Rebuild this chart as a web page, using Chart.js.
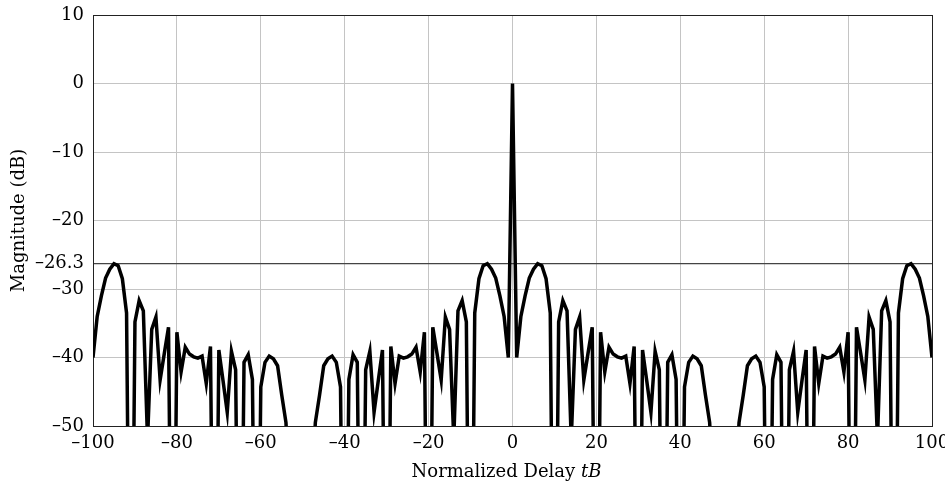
<!DOCTYPE html>
<html>
<head>
<meta charset="utf-8">
<script src="https://cdn.jsdelivr.net/npm/chart.js@4.4.0/dist/chart.umd.min.js"></script>
<style>
  html, body { margin: 0; padding: 0; background: #fff; }
  #wrap { width: 945px; height: 483px; }
</style>
</head>
<body>
<div id="wrap"><canvas id="chart" width="945" height="483"></canvas></div>
<script>
// normalized delay tB, one sample per unit
const delay = [];
for (let t = -100; t <= 100; t++) delay.push(t);

// magnitude (dB); values below -50 are off the axis
const magNeg = [ // tB = -100 .. -1
  -40, -34, -31, -28.4, -27.1, -26.3, -26.6, -28.5, -33.5, -100,
  -34.8, -31.7, -33.2, -52, -35.9, -34.1, -43.3, -39.4, -35.6, -100,
  -36.3, -42.1, -38.5, -39.5, -39.9, -40.1, -39.8, -43.8, -38.4, -100,
  -38.9, -43.4, -48, -39.1, -41.8, -100, -40.7, -39.6, -43.2, -100,
  -44.3, -40.7, -39.8, -40.2, -41.2, -45.5, -49.5, -62, -75, -85,
  -85, -75, -62, -49.5, -45.5, -41.2, -40.2, -39.8, -40.7, -44.3,
  -100, -43.2, -39.6, -40.7, -100, -41.8, -39.1, -48, -43.4, -38.9,
  -100, -38.4, -43.8, -39.8, -40.1, -39.9, -39.5, -38.5, -42.1, -36.3,
  -100, -35.6, -39.4, -43.3, -34.1, -35.9, -52, -33.2, -31.7, -34.8,
  -100, -33.5, -28.5, -26.6, -26.3, -27.1, -28.4, -31, -34, -40
];
const magZero = [0]; // tB = 0
const magPos = [ // tB = 1 .. 100
  -40, -34, -31, -28.4, -27.1, -26.3, -26.6, -28.5, -33.5, -100,
  -34.8, -31.7, -33.2, -52, -35.9, -34.1, -43.3, -39.4, -35.6, -100,
  -36.3, -42.1, -38.5, -39.5, -39.9, -40.1, -39.8, -43.8, -38.4, -100,
  -38.9, -43.4, -48, -39.1, -41.8, -100, -40.7, -39.6, -43.2, -100,
  -44.3, -40.7, -39.8, -40.2, -41.2, -45.5, -49.5, -62, -75, -85,
  -85, -75, -62, -49.5, -45.5, -41.2, -40.2, -39.8, -40.7, -44.3,
  -100, -43.2, -39.6, -40.7, -100, -41.8, -39.1, -48, -43.4, -38.9,
  -100, -38.4, -43.8, -39.8, -40.1, -39.9, -39.5, -38.5, -42.1, -36.3,
  -100, -35.6, -39.4, -43.3, -34.1, -35.9, -52, -33.2, -31.7, -34.8,
  -100, -33.5, -28.5, -26.6, -26.3, -27.1, -28.4, -31, -34, -40
];
const magnitude = magNeg.concat(magZero, magPos);

const xTicks = [-100, -80, -60, -40, -20, 0, 20, 40, 60, 80, 100];
const yTicks = [-50, -40, -30, -26.3, -20, -10, 0, 10];
const peakSidelobe = -26.3;

const xTitle = 'Normalized Delay ';
const xTitleItalic = 'tB';
const yTitle = 'Magnitude (dB)';

const FONT = '"DejaVu Serif", serif';
const fmt = v => (v < 0 ? '\u2013' + Math.abs(v) : String(v));

// axis titles drawn by hand so "tB" can be italic
const axisTitles = {
  id: 'axisTitles',
  afterDraw(chart) {
    const ctx = chart.ctx;
    const a = chart.chartArea;
    ctx.save();
    ctx.fillStyle = '#000';
    ctx.textBaseline = 'alphabetic';
    const regular = '18px ' + FONT;
    const italic = 'italic 18px ' + FONT;
    ctx.font = regular;
    const w1 = ctx.measureText(xTitle).width;
    ctx.font = italic;
    const w2 = ctx.measureText(xTitleItalic).width;
    const x0 = (a.left + a.right) / 2 - (w1 + w2) / 2 - 6;
    ctx.font = regular;
    ctx.fillText(xTitle, x0, 477);
    ctx.font = italic;
    ctx.fillText(xTitleItalic, x0 + w1, 477);

    ctx.translate(24, (a.top + a.bottom) / 2);
    ctx.rotate(-Math.PI / 2);
    ctx.textAlign = 'center';
    ctx.font = regular;
    ctx.fillText(yTitle, 0, 0);
    ctx.restore();
  }
};

new Chart(document.getElementById('chart'), {
  type: 'line',
  data: {
    datasets: [{
      data: delay.map((t, i) => ({ x: t, y: magnitude[i] })),
      borderColor: '#000',
      borderWidth: 3.5,
      pointRadius: 0,
      tension: 0,
      fill: false
    }]
  },
  options: {
    responsive: false,
    animation: false,
    layout: { padding: { left: 0, right: 13, top: 15, bottom: 0 } },
    plugins: {
      legend: { display: false },
      tooltip: { enabled: false }
    },
    scales: {
      x: {
        type: 'linear',
        min: -100,
        max: 100,
        afterBuildTicks: s => { s.ticks = xTicks.map(v => ({ value: v })); },
        afterFit: s => { s.height = 57; s.paddingLeft = 0; s.paddingRight = 0; },
        ticks: {
          font: { family: FONT, size: 18 },
          color: '#000',
          padding: 7,
          maxRotation: 0,
          autoSkip: false,
          callback: v => fmt(v)
        },
        grid: {
          drawTicks: false,
          lineWidth: 1,
          color: c => (Math.abs(c.tick.value) === 100 ? '#222' : '#c4c4c4')
        },
        border: { display: true, color: '#222', width: 1 }
      },
      y: {
        min: -50,
        max: 10,
        afterBuildTicks: s => { s.ticks = yTicks.map(v => ({ value: v })); },
        afterFit: s => { s.width = 93; s.paddingTop = 0; s.paddingBottom = 0; },
        ticks: {
          font: { family: FONT, size: 18 },
          color: '#000',
          padding: 9,
          autoSkip: false,
          callback: v => fmt(v)
        },
        grid: {
          drawTicks: false,
          lineWidth: c => (c.tick.value === peakSidelobe ? 1.3 : 1),
          color: c => {
            const v = c.tick.value;
            if (v === 10 || v === -50) return '#222';
            if (v === peakSidelobe) return '#444';
            return '#c4c4c4';
          }
        },
        border: { display: true, color: '#222', width: 1 }
      }
    }
  },
  plugins: [axisTitles]
});
</script>
</body>
</html>
